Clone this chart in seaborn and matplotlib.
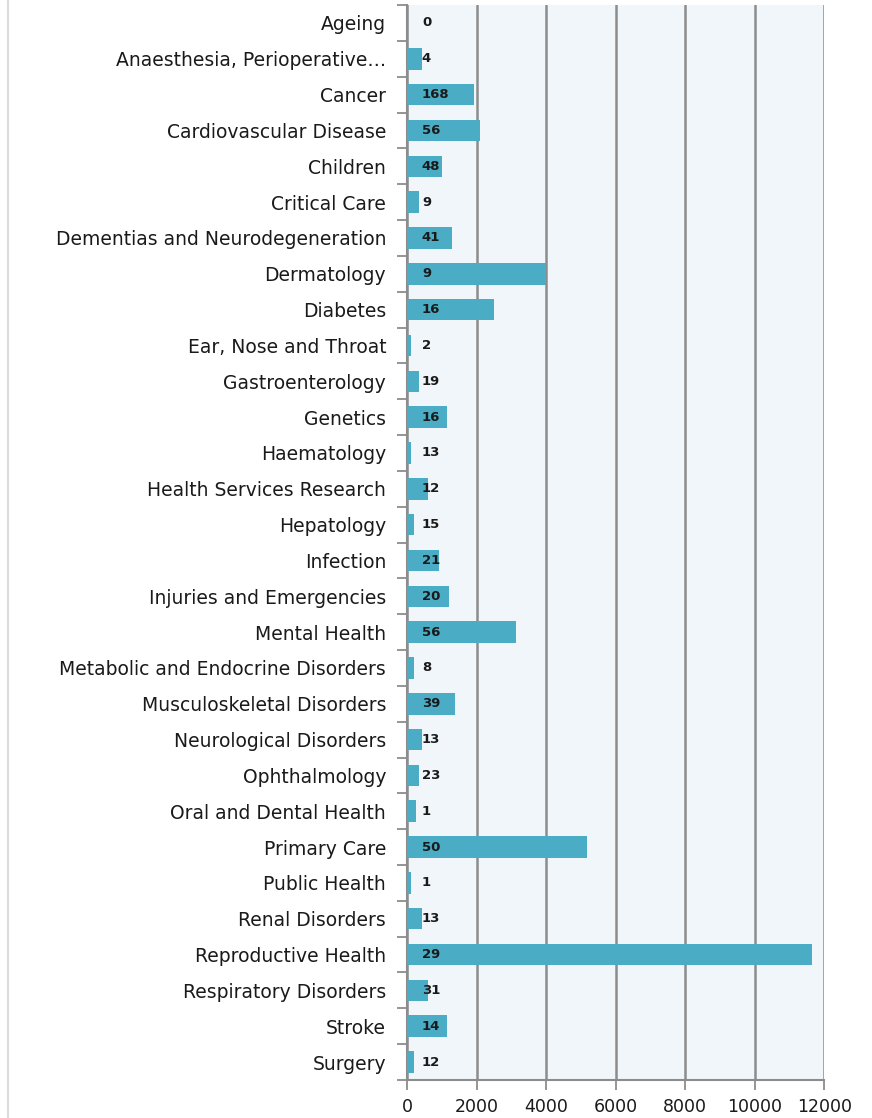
import matplotlib
matplotlib.use("Agg")
import pandas as pd
import matplotlib.pyplot as plt
import seaborn as sns
from matplotlib.lines import Line2D

categories = [
    "Ageing", "Anaesthesia, Perioperative\u2026", "Cancer", "Cardiovascular Disease",
    "Children", "Critical Care", "Dementias and Neurodegeneration", "Dermatology",
    "Diabetes", "Ear, Nose and Throat", "Gastroenterology", "Genetics",
    "Haematology", "Health Services Research", "Hepatology", "Infection",
    "Injuries and Emergencies", "Mental Health", "Metabolic and Endocrine Disorders",
    "Musculoskeletal Disorders", "Neurological Disorders", "Ophthalmology",
    "Oral and Dental Health", "Primary Care", "Public Health", "Renal Disorders",
    "Reproductive Health", "Respiratory Disorders", "Stroke", "Surgery",
]
values = [
    0, 430, 1935, 2090, 1000, 355, 1300, 4000, 2490, 115, 355, 1140,
    115, 595, 190, 910, 1215, 3125, 190, 1380, 430, 355, 268, 5175,
    115, 430, 11655, 595, 1140, 190,
]
counts = [
    0, 4, 168, 56, 48, 9, 41, 9, 16, 2, 19, 16, 13, 12, 15, 21, 20, 56,
    8, 39, 13, 23, 1, 50, 1, 13, 29, 31, 14, 12,
]
x_ticks = [0, 2000, 4000, 6000, 8000, 10000, 12000]

df = pd.DataFrame({"category": categories, "value": values, "count": counts})

sns.set_style("white")
plt.rcParams["font.family"] = ["DejaVu Sans"]

fig = plt.figure(figsize=(8.72, 11.18), dpi=100)
ax = fig.add_axes([0.4667, 0.034, 0.4786, 0.9615])
ax.set_facecolor("#f1f6fa")

sns.barplot(data=df, x="value", y="category", orient="h", color="#4bacc6",
            saturation=1, width=0.6, edgecolor="none", linewidth=0, ax=ax, zorder=3)

for i, c in enumerate(counts):
    ax.text(430, i, str(c), ha="left", va="center", fontsize=9.5,
            fontweight="bold", color="#1a1a1a", zorder=4)

ax.set_xlim(0, 12000)
ax.set_ylim(len(categories) - 0.5, -0.5)
ax.set_xticks(x_ticks)
ax.set_xticklabels([str(t) for t in x_ticks], fontsize=12.5, color="#1a1a1a")
ax.set_yticks(range(len(categories)))
ax.set_yticklabels(categories, fontsize=13.5, color="#1a1a1a")
ax.set_yticks([i - 0.5 for i in range(len(categories) + 1)], minor=True)
ax.tick_params(axis="y", which="major", left=False, length=0, pad=15)
ax.tick_params(axis="y", which="minor", left=True, length=7, width=1.3,
               color="#8c8c8c", direction="out")
ax.tick_params(axis="x", which="major", bottom=True, length=7, width=1.3,
               color="#8c8c8c", direction="out", pad=6)

ax.xaxis.grid(True, color="#8c8c8c", linewidth=1.8, zorder=0)
ax.set_axisbelow(True)
ax.set_xlabel("")
ax.set_ylabel("")

for side in ["top", "right"]:
    ax.spines[side].set_visible(False)
for side in ["left", "bottom"]:
    ax.spines[side].set_color("#8c8c8c")
    ax.spines[side].set_linewidth(1.5)

fig.add_artist(Line2D([0.009, 0.009], [0.0, 1.0], color="#dcdcdc", linewidth=1.5))

fig.savefig("out.png", dpi=100, facecolor="white")
